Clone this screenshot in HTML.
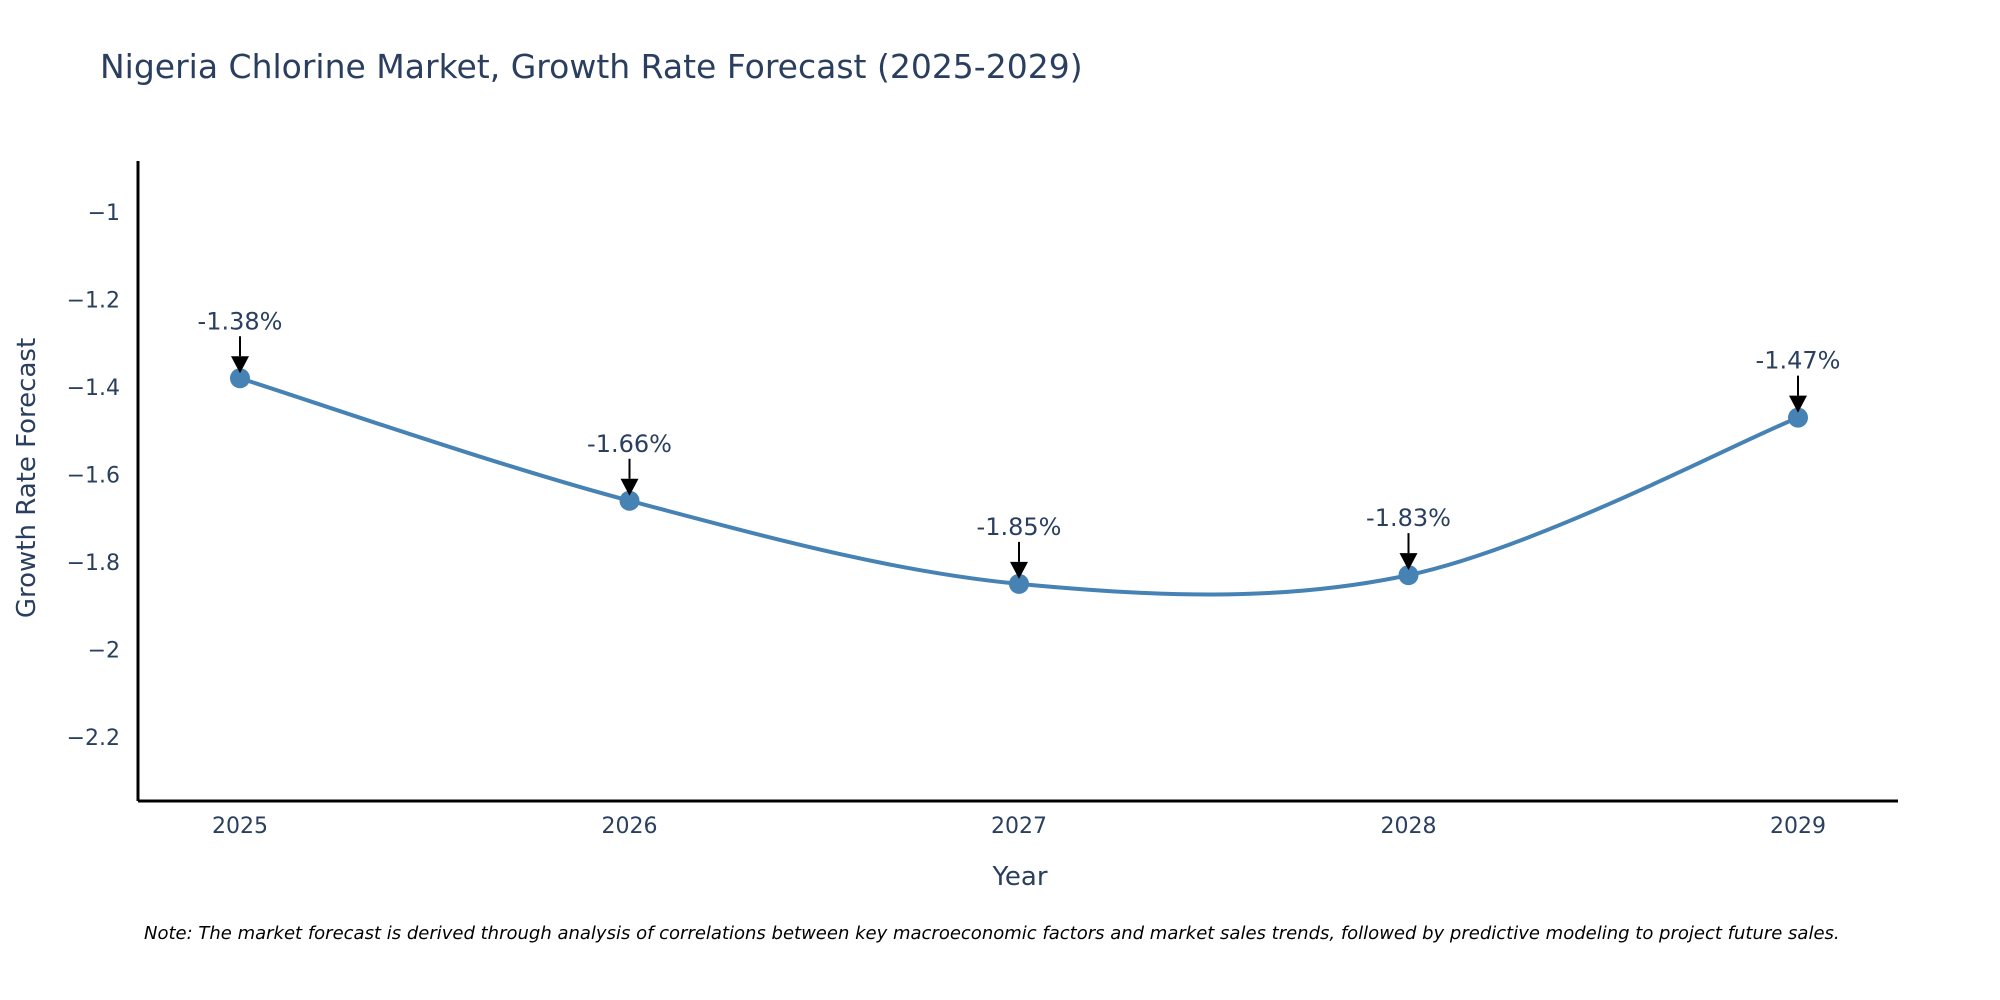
<!DOCTYPE html>
<html><head><meta charset="utf-8"><style>
html,body{margin:0;padding:0;background:#fff;width:2000px;height:1000px;overflow:hidden}
svg{display:block}
text{font-family:"DejaVu Sans","Liberation Sans",sans-serif;fill:#2a3f5f}
</style></head><body>
<svg id="chart" width="2000" height="1000">
<text x="100" y="78" font-size="33">Nigeria Chlorine Market, Growth Rate Forecast (2025-2029)</text>
<g id="yticks"></g><g id="xticks"></g>
<line x1="138" y1="161" x2="138" y2="801" stroke="#000" stroke-width="3"/>
<line x1="138" y1="801" x2="1898" y2="801" stroke="#000" stroke-width="3"/>
<g id="series"></g><g id="annots"></g>
<text x="1020" y="885" font-size="26" text-anchor="middle">Year</text>
<text transform="translate(35,478) rotate(-90)" font-size="26" text-anchor="middle">Growth Rate Forecast</text>
<text x="144" y="939" font-size="18" font-style="italic" style="fill:#000">Note: The market forecast is derived through analysis of correlations between key macroeconomic factors and market sales trends, followed by predictive modeling to project future sales.</text>
</svg>
<script>
const years=[2025,2026,2027,2028,2029];
const values=[-1.38,-1.66,-1.85,-1.83,-1.47];
const labels=["-1.38%","-1.66%","-1.85%","-1.83%","-1.47%"];
const yTicks=[-1,-1.2,-1.4,-1.6,-1.8,-2,-2.2];
const yTickLabels=["\u22121","\u22121.2","\u22121.4","\u22121.6","\u22121.8","\u22122","\u22122.2"];
const NS="http://www.w3.org/2000/svg";
function xs(v){return 240+(v-2025)*(1798-240)/4;}
function ys(v){return 212+(-1-v)*437.5;}
function mk(t,a,p){const e=document.createElementNS(NS,t);for(const k in a)e.setAttribute(k,a[k]);p.appendChild(e);return e;}
const yg=document.getElementById('yticks');
yTicks.forEach((t,i)=>{const e=mk('text',{x:120,y:ys(t)+8,'font-size':22,'text-anchor':'end'},yg);


e.textContent=yTickLabels[i];});
const xg=document.getElementById('xticks');
years.forEach(y=>{const e=mk('text',{x:xs(y),y:833,'font-size':22,'text-anchor':'middle'},xg);


e.textContent=y;});
const sg=document.getElementById('series');
const P=years.map((y,i)=>[xs(y),ys(values[i])]);
let d='M'+P[0][0]+','+P[0][1];
for(let i=0;i<P.length-1;i++){const p0=P[Math.max(0,i-1)],p1=P[i],p2=P[i+1],p3=P[Math.min(P.length-1,i+2)];
const c1=[p1[0]+(p2[0]-p0[0])/6,p1[1]+(p2[1]-p0[1])/6],c2=[p2[0]-(p3[0]-p1[0])/6,p2[1]-(p3[1]-p1[1])/6];
d+=' C'+c1+' '+c2+' '+p2;}
const line=mk('path',{d:d,fill:'none',stroke:'#4682b4','stroke-width':4},sg);


const ag=document.getElementById('annots');
P.forEach((p,i)=>{const c=mk('circle',{cx:p[0],cy:p[1],r:10,fill:'#4682b4'},sg);


const l=mk('line',{x1:p[0],y1:p[1]-42,x2:p[0],y2:p[1]-22,stroke:'#000','stroke-width':2},ag);


const h=mk('polygon',{points:(p[0]-9)+','+(p[1]-22)+' '+(p[0]+9)+','+(p[1]-22)+' '+p[0]+','+(p[1]-5),fill:'#000'},ag);


const t=mk('text',{x:p[0],y:p[1]-49,'font-size':24,'text-anchor':'middle'},ag);


t.textContent=labels[i];});
</script>
</body></html>
